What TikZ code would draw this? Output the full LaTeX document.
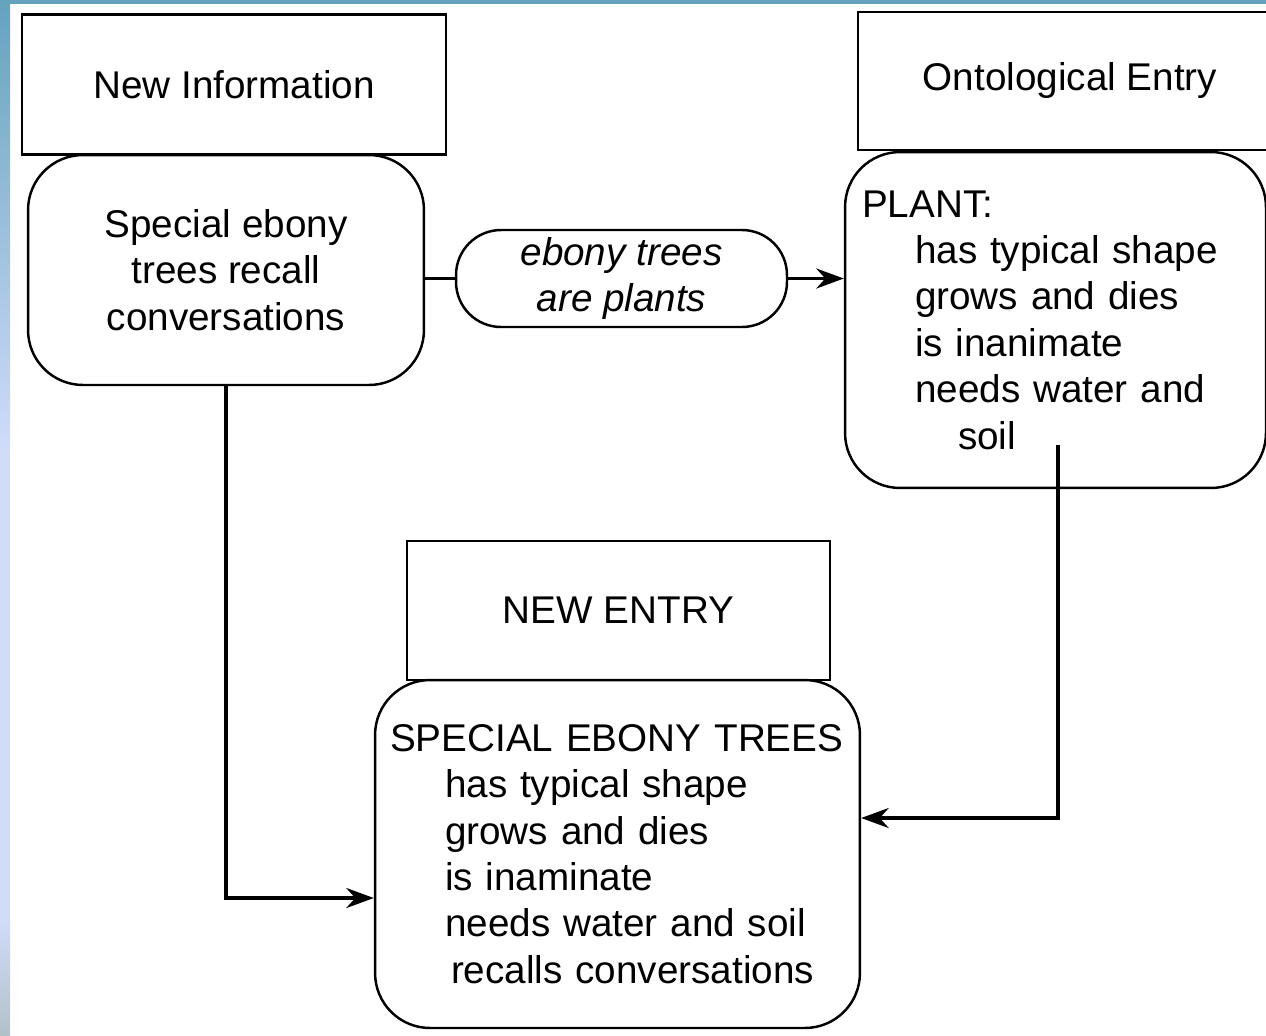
\documentclass[tikz,border=0pt]{standalone}
\usepackage{fontspec}
\setmainfont{Liberation Sans}
\usetikzlibrary{arrows.meta}
\definecolor{stripteal}{RGB}{100,162,190}
\definecolor{striplav}{RGB}{208,220,250}
\definecolor{stripgrey}{RGB}{180,192,200}
\newcommand\diafont{\fontsize{22}{26.4}\selectfont}
\begin{document}
\begin{tikzpicture}[x=0.02cm,y=-0.02cm,
  every node/.style={font=\diafont},
  head/.style={draw,line width=1.4pt,minimum width=8.48cm,minimum height=2.8cm},
  entrybox/.style={draw,line width=1.4pt,rounded corners=1.1cm},
  link/.style={line width=1.9pt},
  >={Stealth[length=0.55cm,width=0.4cm]}]
  \useasboundingbox (0,0) rectangle (1266,1035);
  % frame of the slide
  \fill[white] (0,0) rectangle (1266,1035);
  \fill[stripteal] (0,0) rectangle (1266,4);
  \shade[top color=stripteal,bottom color=striplav] (0,0) rectangle (10,450);
  \fill[striplav] (0,449) rectangle (10,920);
  \shade[top color=striplav,bottom color=stripgrey] (0,919) rectangle (10,1035);

  \node[head] (newinfo) at (234,84.5) {New Information};
  \node[head,minimum height=2.76cm] (onto) at (1070,81) {Ontological Entry};
  \node[entrybox,minimum width=7.92cm,minimum height=4.6cm,align=center] (special) at (226,270)
    {Special ebony\\trees recall\\conversations};
  \node[entrybox,rounded corners=0.9cm,minimum width=6.62cm,minimum height=1.94cm,
    align=center,font=\diafont\itshape] (rel) at (621.5,278.5) {ebony trees\\are plants};
  \node[entrybox,minimum width=8.42cm,minimum height=6.72cm,text width=7.74cm,
    inner xsep=0.34cm,align=left] (plant) at (1055.5,320)
    {PLANT:\\
     \hspace*{1.06cm}has typical shape\\
     \hspace*{1.06cm}grows and dies\\
     \hspace*{1.06cm}is inanimate\\
     \hspace*{1.06cm}needs water and\\
     \hspace*{1.92cm}soil\\[-0.2cm]};
  \node[head,minimum width=8.46cm,minimum height=2.78cm] (newentry) at (618.5,610.5) {NEW ENTRY};
  \node[entrybox,minimum width=9.7cm,minimum height=6.96cm,text width=9.1cm,
    inner xsep=0.3cm,align=left] (entry) at (617.5,854)
    {SPECIAL EBONY TREES\\
     \hspace*{1.1cm}has typical shape\\
     \hspace*{1.1cm}grows and dies\\
     \hspace*{1.1cm}is inaminate\\
     \hspace*{1.1cm}needs water and soil\\
     \hspace*{1.22cm}recalls conversations};

  \coordinate (soilend) at (1058,445);
  \coordinate (turnR) at (1058,818);
  \coordinate (inL) at (0,898);
  \draw[link] (special.east |- rel.west) -- (rel.west);
  \draw[link,->] (rel.east) -- (rel.east -| plant.west);
  \draw[link,->] (soilend) -- (turnR) -- (turnR -| entry.east);
  \draw[link,->] (special.south) |- (inL -| entry.west);
\end{tikzpicture}
\end{document}
